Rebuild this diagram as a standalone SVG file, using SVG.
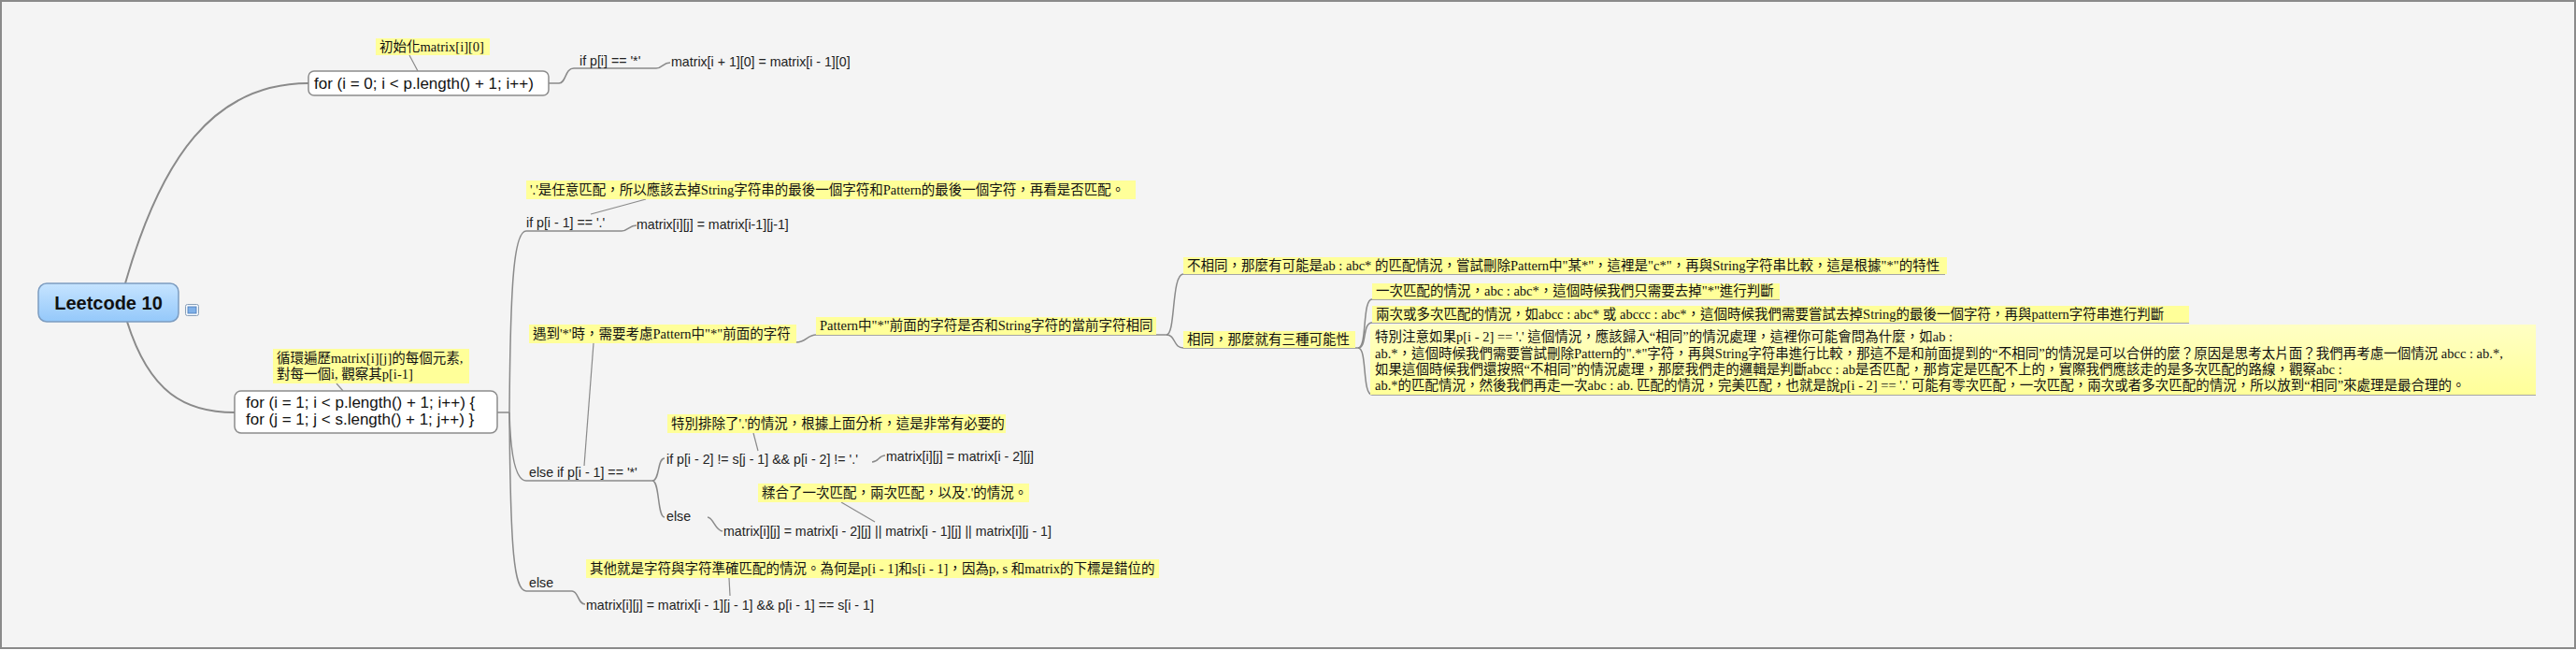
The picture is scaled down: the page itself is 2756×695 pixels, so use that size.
<svg xmlns="http://www.w3.org/2000/svg" width="2756" height="695" viewBox="0 0 2756 695">
<defs>
<style>
.bg{fill:#f4f4f4;stroke:#8a8a8a;stroke-width:2}
.conn{fill:none;stroke:#8a8a8a;stroke-width:1.5}
.main{fill:none;stroke:#8a8a8a;stroke-width:2}
.thin{fill:none;stroke:#8a8a8a;stroke-width:1.2}
.note{fill:#ffff99}
.nt{font-family:"Liberation Serif","Noto Sans CJK TC",serif;font-size:14.5px;fill:#111}
.lbl{font-family:"Liberation Sans",Arial,sans-serif;font-size:14.2px;fill:#222}
.box{fill:#ffffff;stroke:#8c8c8c;stroke-width:1.5}
.ntx{font-family:"Liberation Sans",Arial,sans-serif;font-size:17px;fill:#111}
.root{font-family:"Liberation Sans",Arial,sans-serif;font-size:20px;font-weight:bold;fill:#111}
</style>
<linearGradient id="rootg" x1="0" y1="0" x2="0" y2="1">
<stop offset="0" stop-color="#c6e4ff"/>
<stop offset="1" stop-color="#94c8fa"/>
</linearGradient>
<linearGradient id="noteg" x1="0" y1="0" x2="0" y2="1">
<stop offset="0" stop-color="#ffffc4"/>
<stop offset="1" stop-color="#ffff99"/>
</linearGradient>
</defs>
<rect class="bg" x="1" y="1" width="2754" height="692"/>

<g id="connectors">
<path class="main" d="M134,303 C172,170 228,89 330,89"/>
<path class="main" d="M136,344 C160,420 198,441 251,441"/>
<path class="thin" d="M438,59 L447,76"/>
<path class="conn" d="M587,89 H598 C606,89 604,73 614,73 H702"/>
<path class="conn" d="M702,73 C709,73 709,67 717,67"/>
<path class="thin" d="M360,410 L367,418"/>
<path class="conn" d="M532,441 H545"/>
<path class="conn" d="M545,441 C546,300 550,247 563,247 H665"/>
<path class="conn" d="M545,441 C546,480 550,514 563,514 H698"/>
<path class="conn" d="M545,441 C546,590 550,632 563,632 H612"/>
<path class="conn" d="M665,247 C672,247 673,241 681,241"/>
<path class="thin" d="M691,213 L632,229"/>
<path class="thin" d="M635,367 L625,498"/>
<path class="conn" d="M852,366 C862,366 864,358 873,358 H1248"/>
<path class="conn" d="M1248,358 C1258,358 1253,293 1266,293 H2081"/>
<path class="conn" d="M1248,358 C1258,358 1255,372 1266,372 H1453"/>
<path class="conn" d="M1453,372 C1463,372 1457,320 1468,320 H1904"/>
<path class="conn" d="M1453,372 C1463,372 1457,345 1468,345 H2342"/>
<path class="conn" d="M1453,372 C1463,372 1457,422 1468,422 H2713"/>
<path class="conn" d="M698,514 C706,514 703,490 711,490"/>
<path class="conn" d="M698,514 C706,514 703,553 711,553"/>
<path class="conn" d="M933,494 C940,494 940,487 947,487"/>
<path class="conn" d="M757,553 C763,553 765,567 773,568"/>
<path class="thin" d="M806,463 L811,482"/>
<path class="thin" d="M900,537 L936,558"/>
<path class="conn" d="M612,632 C619,632 618,646 626,646"/>
<path class="thin" d="M780,618 L781,637"/>
</g>

<g id="root">
<rect x="41" y="303" width="150" height="41" rx="9" fill="url(#rootg)" stroke="#7c9cc0" stroke-width="1.5"/>
<text class="root" x="116" y="331" text-anchor="middle">Leetcode 10</text>
</g>
<g id="root-icon">
<rect x="198.5" y="325.5" width="14" height="12" rx="2" fill="#f4f8fc" stroke="#8aa0b8" stroke-width="1"/>
<rect x="201" y="328" width="9" height="7" fill="#7fb0e8" stroke="#4a7ab8" stroke-width="0.8"/>
</g>

<g id="note-init">
<rect class="note" x="402" y="41" width="122" height="18"/>
<text class="nt" x="406" y="55">初始化matrix[i][0]</text>
</g>
<g id="node-for-i0">
<rect class="box" x="330" y="76" width="257" height="26" rx="6"/>
<text class="ntx" x="336" y="95">for (i = 0; i &lt; p.length() + 1; i++)</text>
</g>
<g id="lbl-if-pi">
<text class="lbl" x="620" y="70">if p[i] == '*'</text>
</g>
<g id="lbl-init-matrix">
<text class="lbl" x="718" y="71">matrix[i + 1][0] = matrix[i - 1][0]</text>
</g>

<g id="note-loop">
<rect class="note" x="292" y="373" width="210" height="37"/>
<text class="nt" x="296" y="388">循環遍歷matrix[i][j]的每個元素,</text>
<text class="nt" x="296" y="405">對每一個i, 觀察其p[i-1]</text>
</g>
<g id="node-for-i1">
<rect class="box" x="251" y="418" width="281" height="45" rx="7"/>
<text class="ntx" x="263" y="436">for (i = 1; i &lt; p.length() + 1; i++) {</text>
<text class="ntx" x="263" y="454">for (j = 1; j &lt; s.length() + 1; j++) }</text>
</g>

<g id="note-dot">
<rect class="note" x="563" y="193" width="652" height="20"/>
<text class="nt" x="567" y="208">'.'是任意匹配，所以應該去掉String字符串的最後一個字符和Pattern的最後一個字符，再看是否匹配。</text>
</g>
<g id="lbl-if-dot">
<text class="lbl" x="563" y="243">if p[i - 1] == '.'</text>
</g>
<g id="lbl-dot-matrix">
<text class="lbl" x="681" y="245">matrix[i][j] = matrix[i-1][j-1]</text>
</g>

<g id="note-star">
<rect class="note" x="566" y="347" width="286" height="20"/>
<text class="nt" x="570" y="362">遇到'*'時，需要考慮Pattern中"*"前面的字符</text>
</g>
<g id="note-pattern">
<rect class="note" x="873" y="339" width="364" height="19"/>
<text class="nt" x="877" y="353">Pattern中"*"前面的字符是否和String字符的當前字符相同</text>
</g>
<g id="note-diff">
<rect class="note" x="1266" y="275" width="817" height="18"/>
<text class="nt" x="1270" y="289">不相同，那麼有可能是ab : abc* 的匹配情況，嘗試刪除Pattern中"某*"，這裡是"c*"，再與String字符串比較，這是根據"*"的特性</text>
</g>
<g id="note-same">
<rect class="note" x="1266" y="354" width="184" height="18"/>
<text class="nt" x="1270" y="368">相同，那麼就有三種可能性</text>
</g>
<g id="note-once">
<rect class="note" x="1468" y="303" width="436" height="17"/>
<text class="nt" x="1472" y="316">一次匹配的情況，abc : abc*，這個時候我們只需要去掉"*"進行判斷</text>
</g>
<g id="note-twice">
<rect class="note" x="1468" y="327" width="874" height="18"/>
<text class="nt" x="1472" y="341">兩次或多次匹配的情況，如abcc : abc* 或 abccc : abc*，這個時候我們需要嘗試去掉String的最後一個字符，再與pattern字符串進行判斷</text>
</g>
<g id="note-special">
<rect x="1466" y="347" width="1247" height="75" fill="url(#noteg)"/>
<text class="nt" x="1471" y="365">特別注意如果p[i - 2] == '.' 這個情況，應該歸入“相同”的情況處理，這裡你可能會問為什麼，如ab :</text>
<text class="nt" x="1471" y="383">ab.*，這個時候我們需要嘗試刪除Pattern的".*"字符，再與String字符串進行比較，那這不是和前面提到的“不相同”的情況是可以合併的麼？原因是思考太片面？我們再考慮一個情況 abcc : ab.*,</text>
<text class="nt" x="1471" y="400">如果這個時候我們還按照“不相同”的情況處理，那麼我們走的邏輯是判斷abcc : ab是否匹配，那肯定是匹配不上的，實際我們應該走的是多次匹配的路線，觀察abc :</text>
<text class="nt" x="1471" y="417">ab.*的匹配情況，然後我們再走一次abc : ab. 匹配的情況，完美匹配，也就是說p[i - 2] == '.' 可能有零次匹配，一次匹配，兩次或者多次匹配的情況，所以放到“相同”來處理是最合理的。</text>
</g>

<g id="lbl-elseif">
<text class="lbl" x="566" y="510">else if p[i - 1] == '*'</text>
</g>
<g id="note-exclude">
<rect class="note" x="714" y="443" width="362" height="20"/>
<text class="nt" x="718" y="458">特別排除了'.'的情況，根據上面分析，這是非常有必要的</text>
</g>
<g id="lbl-if-ne">
<text class="lbl" x="713" y="496">if p[i - 2] != s[j - 1] &amp;&amp; p[i - 2] != '.'</text>
</g>
<g id="lbl-ne-matrix">
<text class="lbl" x="948" y="493">matrix[i][j] = matrix[i - 2][j]</text>
</g>
<g id="note-merge">
<rect class="note" x="811" y="517" width="290" height="20"/>
<text class="nt" x="815" y="532">糅合了一次匹配，兩次匹配，以及'.'的情況。</text>
</g>
<g id="lbl-else-inner">
<text class="lbl" x="713" y="557">else</text>
</g>
<g id="lbl-or-matrix">
<text class="lbl" x="774" y="573">matrix[i][j] = matrix[i - 2][j] || matrix[i - 1][j] || matrix[i][j - 1]</text>
</g>

<g id="note-other">
<rect class="note" x="627" y="598" width="613" height="20"/>
<text class="nt" x="631" y="613">其他就是字符與字符準確匹配的情況。為何是p[i - 1]和s[i - 1]，因為p, s 和matrix的下標是錯位的</text>
</g>
<g id="lbl-else-outer">
<text class="lbl" x="566" y="628">else</text>
</g>
<g id="lbl-and-matrix">
<text class="lbl" x="627" y="652">matrix[i][j] = matrix[i - 1][j - 1] &amp;&amp; p[i - 1] == s[i - 1]</text>
</g>
</svg>
